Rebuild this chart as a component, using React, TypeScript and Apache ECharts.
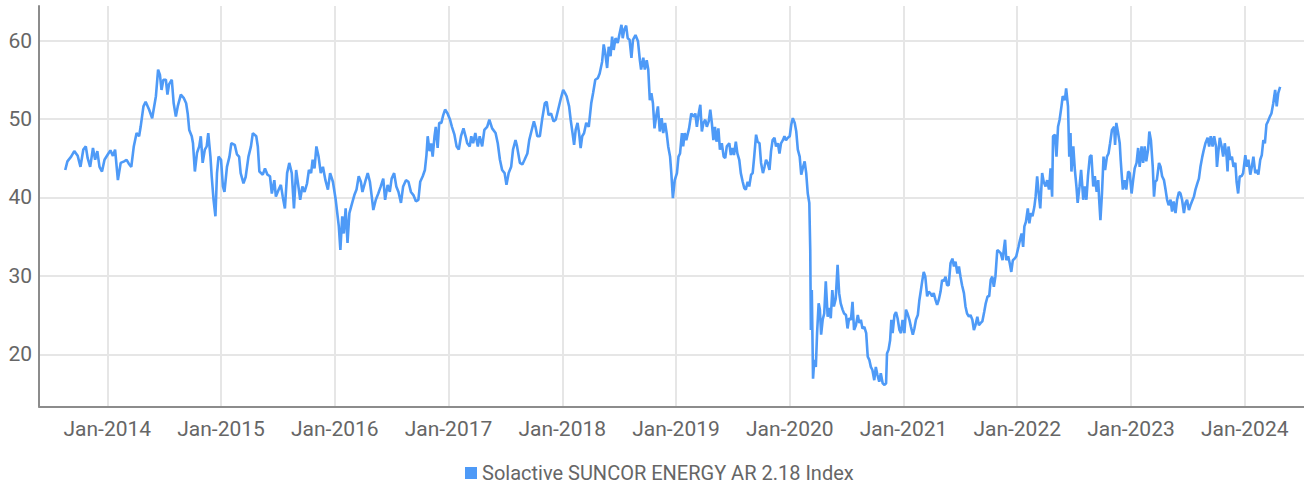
import React, { useEffect, useRef } from "react";
import * as echarts from "echarts";

const SERIES_NAME = "Solactive SUNCOR ENERGY AR 2.18 Index";
const LINE_COLOR = "#4e9af7";
const FONT = "Roboto, 'Liberation Sans', sans-serif";

// [date, index level]
const levels2013: [string, number][] = [
  ["2013-08-19",43.5],["2013-08-26",44.6],["2013-09-07",45.2],["2013-09-17",45.9],["2013-09-28",45.3],["2013-10-07",43.9],["2013-10-16",46.1],["2013-10-24",46.5],["2013-10-30",45.0],["2013-11-07",43.9],["2013-11-16",46.3],["2013-11-23",44.8],["2013-11-30",45.9],["2013-12-07",43.9],["2013-12-15",43.3],["2013-12-23",44.8],
];
const levels2014: [string, number][] = [
  ["2014-01-03",45.5],["2014-01-11",46.0],["2014-01-19",45.3],["2014-01-26",46.1],["2014-02-04",42.2],["2014-02-13",44.4],["2014-02-24",44.6],["2014-03-04",44.8],["2014-03-11",44.3],["2014-03-19",43.9],["2014-03-27",46.5],["2014-04-05",48.2],["2014-04-13",47.8],["2014-04-18",49.0],["2014-04-27",51.6],["2014-05-04",52.2],["2014-05-15",51.2],["2014-05-25",50.1],["2014-06-06",52.9],["2014-06-13",56.3],["2014-06-19",55.6],["2014-06-24",53.7],["2014-06-30",55.0],["2014-07-08",55.0],["2014-07-13",53.1],["2014-07-18",54.4],["2014-07-27",55.0],["2014-08-02",52.0],["2014-08-09",50.3],["2014-08-15",51.6],["2014-08-25",53.1],["2014-09-03",52.7],["2014-09-11",52.0],["2014-09-16",50.7],["2014-09-21",48.6],["2014-09-29",47.8],["2014-10-03",46.9],["2014-10-09",43.3],["2014-10-16",45.7],["2014-10-23",46.5],["2014-10-28",47.8],["2014-11-03",44.4],["2014-11-10",46.1],["2014-11-16",46.5],["2014-11-21",48.2],["2014-11-28",45.2],["2014-12-02",42.7],["2014-12-08",39.7],["2014-12-14",37.6],["2014-12-19",43.1],["2014-12-24",45.2],
];
const levels2015: [string, number][] = [
  ["2015-01-01",44.8],["2015-01-07",41.4],["2015-01-12",40.7],["2015-01-20",43.9],["2015-01-28",45.2],["2015-02-03",46.9],["2015-02-14",46.7],["2015-02-21",45.5],["2015-02-28",45.2],["2015-03-05",43.1],["2015-03-14",41.8],["2015-03-21",42.6],["2015-03-30",45.2],["2015-04-07",46.5],["2015-04-13",48.2],["2015-04-24",47.8],["2015-04-29",46.5],["2015-05-04",43.3],["2015-05-15",42.9],["2015-05-22",43.7],["2015-05-30",42.9],["2015-06-07",42.7],["2015-06-13",40.5],["2015-06-21",42.2],["2015-06-26",40.1],["2015-07-05",41.0],["2015-07-12",41.6],["2015-07-18",40.1],["2015-07-25",38.6],["2015-08-01",43.1],["2015-08-08",44.4],["2015-08-16",43.1],["2015-08-23",38.6],["2015-08-30",43.5],["2015-09-07",41.2],["2015-09-12",39.7],["2015-09-19",41.4],["2015-09-26",40.7],["2015-10-04",41.8],["2015-10-10",43.5],["2015-10-17",43.1],["2015-10-22",44.8],["2015-10-28",43.7],["2015-11-03",46.5],["2015-11-10",45.2],["2015-11-17",43.1],["2015-11-24",43.9],["2015-12-02",42.2],["2015-12-10",41.0],["2015-12-17",43.1],["2015-12-26",42.0],
];
const levels2016: [string, number][] = [
  ["2016-01-04",39.7],["2016-01-09",38.0],["2016-01-14",36.3],["2016-01-19",33.3],["2016-01-25",37.6],["2016-01-30",35.4],["2016-02-05",38.6],["2016-02-11",34.2],["2016-02-17",38.0],["2016-02-26",39.3],["2016-03-04",40.3],["2016-03-11",41.0],["2016-03-18",42.7],["2016-03-25",42.0],["2016-03-30",40.7],["2016-04-08",42.0],["2016-04-16",43.1],["2016-04-23",42.0],["2016-04-29",40.1],["2016-05-04",38.4],["2016-05-12",39.7],["2016-05-20",40.5],["2016-05-28",41.4],["2016-06-05",42.4],["2016-06-11",39.7],["2016-06-19",41.6],["2016-06-26",40.7],["2016-07-02",42.4],["2016-07-10",43.1],["2016-07-17",41.4],["2016-07-24",40.7],["2016-08-01",39.3],["2016-08-08",41.4],["2016-08-17",42.2],["2016-08-25",42.0],["2016-09-02",40.7],["2016-09-10",40.3],["2016-09-18",39.5],["2016-09-26",39.7],["2016-10-02",42.0],["2016-10-10",42.7],["2016-10-17",43.5],["2016-10-22",45.4],["2016-10-26",47.8],["2016-11-01",45.9],["2016-11-06",46.9],["2016-11-11",45.2],["2016-11-17",47.8],["2016-11-21",49.0],["2016-11-27",46.3],["2016-12-02",49.5],["2016-12-09",49.5],["2016-12-15",50.5],["2016-12-21",51.2],["2016-12-29",50.7],
];
const levels2017: [string, number][] = [
  ["2017-01-06",49.9],["2017-01-12",49.0],["2017-01-20",48.0],["2017-01-27",46.5],["2017-02-03",46.1],["2017-02-10",47.8],["2017-02-18",48.8],["2017-02-26",47.6],["2017-03-02",46.9],["2017-03-10",46.5],["2017-03-15",47.8],["2017-03-21",46.9],["2017-03-28",48.2],["2017-04-05",46.5],["2017-04-11",47.8],["2017-04-19",46.5],["2017-04-26",48.6],["2017-05-05",49.0],["2017-05-12",49.9],["2017-05-21",48.8],["2017-06-01",48.2],["2017-06-08",46.9],["2017-06-15",44.8],["2017-06-22",43.5],["2017-06-30",43.1],["2017-07-06",41.6],["2017-07-13",43.1],["2017-07-21",43.9],["2017-07-27",46.1],["2017-08-04",47.3],["2017-08-09",46.5],["2017-08-18",44.4],["2017-08-26",44.2],["2017-09-02",44.8],["2017-09-11",45.6],["2017-09-17",47.3],["2017-09-25",48.6],["2017-10-02",49.7],["2017-10-07",49.0],["2017-10-13",47.8],["2017-10-21",47.8],["2017-10-29",50.1],["2017-11-06",52.0],["2017-11-12",52.2],["2017-11-18",50.5],["2017-11-26",50.7],["2017-12-04",49.7],["2017-12-11",49.9],["2017-12-19",51.2],["2017-12-28",52.7],
];
const levels2018: [string, number][] = [
  ["2018-01-04",53.7],["2018-01-10",53.3],["2018-01-15",52.9],["2018-01-23",51.6],["2018-01-28",49.9],["2018-02-03",48.2],["2018-02-08",46.7],["2018-02-13",48.6],["2018-02-19",49.5],["2018-02-24",48.2],["2018-03-01",46.3],["2018-03-06",47.8],["2018-03-12",48.2],["2018-03-19",49.5],["2018-03-27",49.0],["2018-04-04",52.0],["2018-04-10",53.3],["2018-04-17",55.0],["2018-04-25",55.2],["2018-05-01",55.8],["2018-05-09",57.3],["2018-05-14",59.5],["2018-05-19",58.4],["2018-05-25",56.5],["2018-05-30",59.2],["2018-06-05",58.0],["2018-06-10",60.5],["2018-06-15",58.8],["2018-06-21",60.3],["2018-06-28",59.7],["2018-07-04",60.9],["2018-07-10",62.0],["2018-07-14",60.3],["2018-07-19",61.4],["2018-07-25",61.9],["2018-07-30",60.3],["2018-08-05",60.1],["2018-08-11",57.8],["2018-08-16",60.1],["2018-08-24",60.7],["2018-09-01",59.9],["2018-09-07",57.5],["2018-09-11",56.3],["2018-09-18",57.8],["2018-09-23",56.3],["2018-09-29",57.5],["2018-10-04",56.3],["2018-10-09",52.4],["2018-10-14",53.3],["2018-10-19",52.0],["2018-10-24",48.8],["2018-10-30",50.5],["2018-11-04",51.6],["2018-11-10",48.4],["2018-11-16",50.1],["2018-11-21",48.2],["2018-11-27",49.5],["2018-12-02",48.2],["2018-12-07",46.5],["2018-12-13",45.2],["2018-12-17",43.1],["2018-12-22",39.9],["2018-12-28",42.2],
];
const levels2019: [string, number][] = [
  ["2019-01-04",43.1],["2019-01-09",45.2],["2019-01-14",45.6],["2019-01-20",48.2],["2019-01-24",46.5],["2019-01-29",48.2],["2019-02-03",47.3],["2019-02-12",48.8],["2019-02-19",50.7],["2019-02-27",50.3],["2019-03-04",50.7],["2019-03-09",49.0],["2019-03-14",50.5],["2019-03-20",51.8],["2019-03-25",48.4],["2019-03-30",49.5],["2019-04-05",49.9],["2019-04-10",49.0],["2019-04-16",49.7],["2019-04-21",51.2],["2019-04-26",49.5],["2019-05-01",47.3],["2019-05-06",49.0],["2019-05-11",47.1],["2019-05-17",48.8],["2019-05-22",46.1],["2019-05-28",46.9],["2019-06-03",45.2],["2019-06-08",45.0],["2019-06-13",46.5],["2019-06-21",46.9],["2019-06-26",45.4],["2019-07-01",46.3],["2019-07-06",45.4],["2019-07-12",47.1],["2019-07-17",45.6],["2019-07-23",44.8],["2019-07-28",43.1],["2019-08-03",42.0],["2019-08-08",41.2],["2019-08-13",41.0],["2019-08-19",42.0],["2019-08-24",41.4],["2019-08-30",42.9],["2019-09-04",43.1],["2019-09-09",45.2],["2019-09-15",48.0],["2019-09-20",47.1],["2019-09-26",46.9],["2019-10-01",44.4],["2019-10-07",43.1],["2019-10-12",43.9],["2019-10-17",44.8],["2019-10-22",44.4],["2019-10-28",43.5],["2019-11-02",45.9],["2019-11-07",47.3],["2019-11-13",47.6],["2019-11-18",46.5],["2019-11-24",46.9],["2019-11-29",45.6],["2019-12-04",46.9],["2019-12-10",47.3],["2019-12-15",47.8],["2019-12-20",47.3],["2019-12-26",47.6],
];
const levels2020: [string, number][] = [
  ["2020-01-01",47.8],["2020-01-06",49.3],["2020-01-11",50.1],["2020-01-17",49.5],["2020-01-22",48.4],["2020-01-27",46.1],["2020-02-02",45.2],["2020-02-07",42.9],["2020-02-13",43.9],["2020-02-18",44.6],["2020-02-23",43.1],["2020-02-28",40.5],["2020-03-04",39.3],["2020-03-07",33.3],["2020-03-09",23.1],["2020-03-12",28.2],["2020-03-16",16.9],["2020-03-20",19.3],["2020-03-25",18.4],["2020-03-29",22.7],["2020-04-03",26.5],["2020-04-07",25.7],["2020-04-11",22.5],["2020-04-16",24.4],["2020-04-21",25.2],["2020-04-26",29.3],["2020-05-02",24.8],["2020-05-07",25.9],["2020-05-12",24.6],["2020-05-17",28.2],["2020-05-22",26.1],["2020-05-28",27.1],["2020-06-03",31.4],["2020-06-08",27.8],["2020-06-13",26.5],["2020-06-19",25.7],["2020-06-24",25.2],["2020-06-30",25.0],["2020-07-05",23.3],["2020-07-10",24.6],["2020-07-16",24.4],["2020-07-21",26.7],["2020-07-26",23.1],["2020-08-01",23.7],["2020-08-07",25.0],["2020-08-12",24.0],["2020-08-17",24.4],["2020-08-22",23.3],["2020-08-28",23.5],["2020-09-03",22.7],["2020-09-08",19.7],["2020-09-13",19.3],["2020-09-18",18.4],["2020-09-23",18.0],["2020-09-29",16.7],["2020-10-04",18.4],["2020-10-09",17.4],["2020-10-15",16.5],["2020-10-20",17.6],["2020-10-26",16.3],["2020-11-01",16.1],["2020-11-06",16.3],["2020-11-09",20.1],["2020-11-14",20.6],["2020-11-19",21.8],["2020-11-23",24.4],["2020-11-27",22.7],["2020-12-03",25.0],["2020-12-08",25.4],["2020-12-13",24.6],["2020-12-19",23.1],["2020-12-24",22.7],["2020-12-29",24.4],
];
const levels2021: [string, number][] = [
  ["2021-01-04",22.7],["2021-01-09",25.7],["2021-01-14",25.2],["2021-01-20",24.4],["2021-01-25",23.5],["2021-01-31",22.5],["2021-02-05",23.3],["2021-02-10",24.4],["2021-02-16",25.0],["2021-02-21",26.9],["2021-02-26",28.2],["2021-03-02",29.3],["2021-03-07",30.5],["2021-03-12",29.9],["2021-03-18",27.4],["2021-03-23",28.0],["2021-03-28",27.8],["2021-04-03",27.4],["2021-04-08",27.8],["2021-04-14",26.9],["2021-04-19",26.3],["2021-04-24",26.9],["2021-04-30",28.0],["2021-05-05",29.5],["2021-05-10",29.3],["2021-05-16",29.9],["2021-05-21",28.8],["2021-05-26",28.8],["2021-06-01",31.6],["2021-06-07",32.2],["2021-06-12",31.2],["2021-06-17",31.8],["2021-06-23",30.3],["2021-06-28",31.2],["2021-07-03",29.9],["2021-07-08",28.8],["2021-07-14",27.8],["2021-07-19",26.1],["2021-07-24",25.2],["2021-07-30",24.8],["2021-08-04",25.0],["2021-08-10",24.4],["2021-08-15",23.1],["2021-08-20",23.7],["2021-08-26",24.8],["2021-08-31",23.7],["2021-09-06",24.0],["2021-09-11",24.2],["2021-09-17",25.4],["2021-09-22",26.5],["2021-09-28",27.4],["2021-10-03",27.4],["2021-10-08",29.5],["2021-10-13",29.9],["2021-10-18",28.6],["2021-10-23",29.9],["2021-10-29",33.3],["2021-11-04",33.1],["2021-11-09",32.9],["2021-11-15",32.0],["2021-11-20",33.7],["2021-11-23",34.6],["2021-11-27",32.0],["2021-12-03",32.5],["2021-12-08",31.6],["2021-12-13",30.5],["2021-12-18",32.0],["2021-12-24",32.2],["2021-12-29",32.5],
];
const levels2022: [string, number][] = [
  ["2022-01-05",33.7],["2022-01-10",34.6],["2022-01-15",35.4],["2022-01-20",33.7],["2022-01-24",36.3],["2022-01-29",36.9],["2022-02-04",38.6],["2022-02-09",36.7],["2022-02-14",38.0],["2022-02-19",37.6],["2022-02-25",38.8],["2022-03-01",40.1],["2022-03-06",42.7],["2022-03-11",40.5],["2022-03-16",38.6],["2022-03-22",43.1],["2022-03-27",42.0],["2022-04-02",41.4],["2022-04-07",42.2],["2022-04-13",41.0],["2022-04-18",43.7],["2022-04-23",40.1],["2022-04-26",47.8],["2022-05-02",48.0],["2022-05-07",45.2],["2022-05-12",49.0],["2022-05-17",49.9],["2022-05-23",51.6],["2022-05-27",52.9],["2022-06-03",52.4],["2022-06-07",53.9],["2022-06-13",51.6],["2022-06-17",45.2],["2022-06-21",48.2],["2022-06-24",43.3],["2022-06-30",46.5],["2022-07-05",43.5],["2022-07-10",41.4],["2022-07-14",39.3],["2022-07-20",41.4],["2022-07-25",43.5],["2022-08-01",39.7],["2022-08-06",41.4],["2022-08-11",39.7],["2022-08-16",42.7],["2022-08-22",45.2],["2022-08-27",45.4],["2022-09-02",41.4],["2022-09-07",42.7],["2022-09-13",40.7],["2022-09-18",42.2],["2022-09-21",39.7],["2022-09-25",37.1],["2022-09-30",40.5],["2022-10-05",45.2],["2022-10-10",43.5],["2022-10-16",45.2],["2022-10-21",45.6],["2022-10-26",46.9],["2022-11-01",48.6],["2022-11-08",49.0],["2022-11-11",46.7],["2022-11-15",49.5],["2022-11-20",48.4],["2022-11-26",46.9],["2022-11-29",44.8],["2022-12-02",43.1],["2022-12-06",41.0],["2022-12-12",42.2],["2022-12-17",41.0],["2022-12-23",43.3],["2022-12-28",43.1],
];
const levels2023: [string, number][] = [
  ["2023-01-03",40.5],["2023-01-08",42.2],["2023-01-13",43.7],["2023-01-19",44.4],["2023-01-24",46.3],["2023-01-29",43.9],["2023-02-04",46.5],["2023-02-09",44.4],["2023-02-14",46.5],["2023-02-19",44.6],["2023-02-25",46.1],["2023-03-01",48.4],["2023-03-06",47.3],["2023-03-12",43.9],["2023-03-16",40.1],["2023-03-20",42.0],["2023-03-25",42.2],["2023-04-01",44.4],["2023-04-06",43.9],["2023-04-11",42.7],["2023-04-17",42.2],["2023-04-22",41.0],["2023-04-27",39.7],["2023-05-02",39.0],["2023-05-08",39.7],["2023-05-13",38.2],["2023-05-18",39.5],["2023-05-24",38.0],["2023-05-29",39.7],["2023-06-04",40.7],["2023-06-09",40.5],["2023-06-14",39.7],["2023-06-20",38.0],["2023-06-25",39.3],["2023-06-30",39.7],["2023-07-06",38.4],["2023-07-11",39.0],["2023-07-16",39.5],["2023-07-22",40.1],["2023-07-27",41.0],["2023-08-02",41.8],["2023-08-07",42.4],["2023-08-12",43.9],["2023-08-18",45.2],["2023-08-23",46.1],["2023-08-28",46.9],["2023-09-04",47.6],["2023-09-09",46.5],["2023-09-14",47.8],["2023-09-20",46.5],["2023-09-25",47.8],["2023-10-01",46.5],["2023-10-04",43.9],["2023-10-08",45.6],["2023-10-13",47.6],["2023-10-19",46.5],["2023-10-24",45.2],["2023-10-29",46.9],["2023-11-04",45.2],["2023-11-07",43.3],["2023-11-10",46.5],["2023-11-16",44.8],["2023-11-21",45.2],["2023-11-26",43.9],["2023-12-02",44.4],["2023-12-06",42.0],["2023-12-11",40.5],["2023-12-16",42.7],["2023-12-22",42.7],["2023-12-27",43.1],
];
const levels2024: [string, number][] = [
  ["2024-01-03",45.4],["2024-01-08",43.9],["2024-01-13",44.8],["2024-01-19",42.9],["2024-01-24",43.9],["2024-01-29",45.2],["2024-02-04",43.1],["2024-02-09",43.5],["2024-02-14",42.9],["2024-02-20",44.8],["2024-02-25",45.4],["2024-03-01",47.3],["2024-03-06",46.9],["2024-03-11",49.3],["2024-03-16",49.7],["2024-03-22",50.3],["2024-03-27",50.7],["2024-04-02",52.0],["2024-04-08",53.7],["2024-04-13",51.6],["2024-04-18",53.3],["2024-04-24",54.1],
];

const allLevels = [
  ...levels2013, ...levels2014, ...levels2015, ...levels2016, ...levels2017, ...levels2018,
  ...levels2019, ...levels2020, ...levels2021, ...levels2022, ...levels2023, ...levels2024,
];

// date string -> fractional year (so year ticks fall on 1 January)
function toYear(d: string): number {
  const [y, m, day] = d.split("-").map(Number);
  const start = Date.UTC(y, 0, 1);
  const end = Date.UTC(y + 1, 0, 1);
  return y + (Date.UTC(y, m - 1, day) - start) / (end - start);
}

export default function App() {
  const ref = useRef<HTMLDivElement>(null);
  useEffect(() => {
    if (!ref.current) return;
    const chart = echarts.init(ref.current, undefined, { renderer: "svg" });
    const gridColor = "#e6e6e6";
    const axisColor = "#8c8c8c";
    const textColor = "#666666";
    chart.setOption({
      animation: false,
      backgroundColor: "#ffffff",
      grid: { left: 39, right: 0, top: 6, bottom: 81.5, containLabel: false },
      legend: {
        data: [{ name: SERIES_NAME, icon: "rect" }],
        left: 463,
        top: 461,
        padding: 2,
        itemWidth: 12,
        itemHeight: 12,
        itemGap: 10,
        textStyle: { color: textColor, fontSize: 20, fontFamily: FONT },
      },
      xAxis: {
        type: "value",
        min: 2013.3995,
        max: 2024.5214,
        splitNumber: 11,
        minInterval: 1,
        maxInterval: 1,
        axisLine: { show: true, lineStyle: { color: axisColor, width: 2 } },
        axisTick: { show: false },
        axisLabel: {
          show: true,
          showMinLabel: false,
          showMaxLabel: false,
          margin: 12,
          color: textColor,
          fontSize: 21,
          fontFamily: FONT,
          formatter: (v: number) => "Jan-" + Math.round(v),
        },
        splitLine: {
          show: true,
          showMinLine: false,
          showMaxLine: false,
          lineStyle: { color: gridColor, width: 2 },
        },
      },
      yAxis: {
        type: "value",
        min: 13.35,
        max: 64.4,
        minInterval: 10,
        maxInterval: 10,
        axisLine: { show: true, lineStyle: { color: axisColor, width: 2 } },
        axisTick: { show: false },
        axisLabel: {
          show: true,
          showMinLabel: false,
          showMaxLabel: false,
          margin: 7,
          color: textColor,
          fontSize: 21,
          fontFamily: FONT,
        },
        splitLine: {
          show: true,
          showMinLine: false,
          showMaxLine: false,
          lineStyle: { color: gridColor, width: 2 },
        },
      },
      series: [
        {
          name: SERIES_NAME,
          type: "line",
          showSymbol: false,
          symbol: "none",
          color: LINE_COLOR,
          lineStyle: { color: LINE_COLOR, width: 2.6 },
          data: allLevels.map(([d, v]) => [toYear(d), v]),
        },
      ],
    });
    return () => chart.dispose();
  }, []);
  return (
    <div
      ref={ref}
      style={{ position: "absolute", left: 0, top: 0, width: 1304, height: 488 }}
    />
  );
}
